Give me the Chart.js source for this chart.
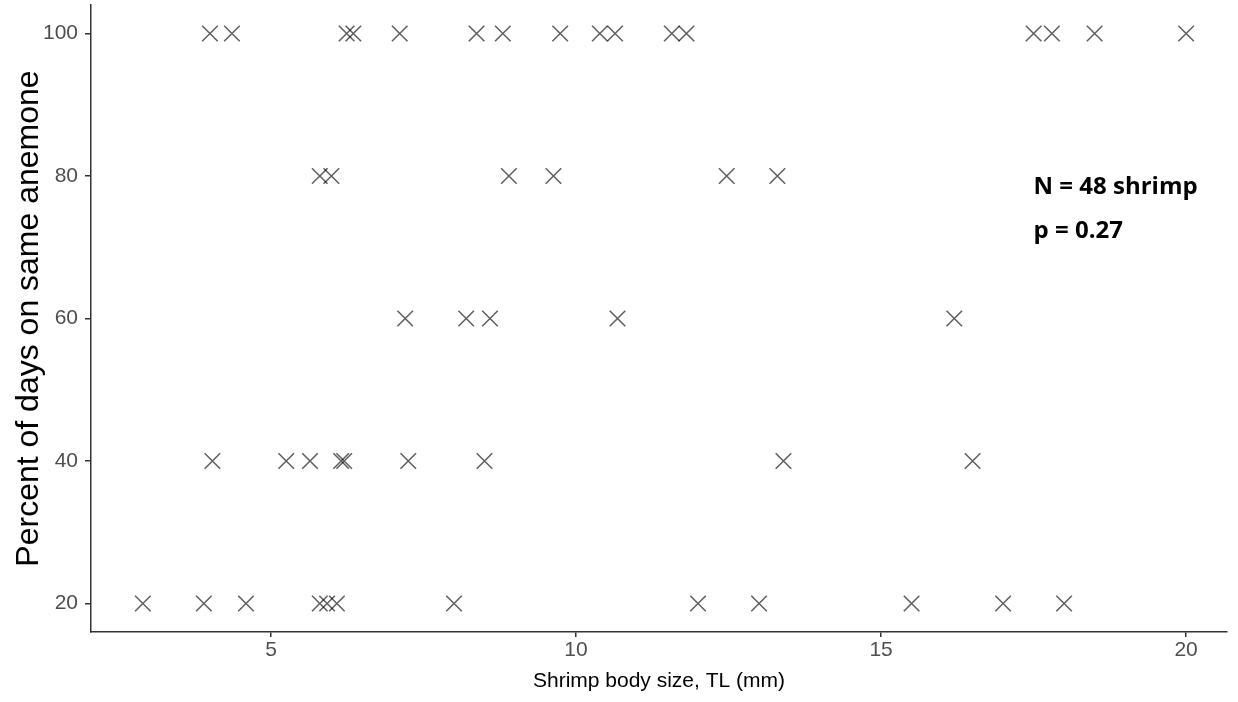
<!DOCTYPE html>
<html>
<head>
<meta charset="utf-8">
<script src="https://cdn.jsdelivr.net/npm/chart.js@4.4.0/dist/chart.umd.min.js"></script>
<style>
  html, body { margin: 0; padding: 0; background: #fff; }
  canvas { display: block; }
</style>
</head>
<body>
<canvas id="shrimpChart" width="1238" height="702"></canvas>
<script>
// Shrimp body size (TL, mm), one list per "percent of days on same anemone" level
const size100 = [4.0, 4.36, 6.24, 6.35, 7.11, 8.37, 8.8, 9.74, 10.39, 10.64, 11.57, 11.81, 17.5, 17.8, 18.5, 20.0];
const size80 = [5.8, 5.99, 8.9, 9.63, 12.47, 13.3];
const size60 = [7.2, 8.2, 8.59, 10.68, 16.2];
const size40 = [4.04, 5.25, 5.64, 6.15, 6.2, 7.25, 8.5, 13.4, 16.5];
const size20 = [2.9, 3.9, 4.59, 5.8, 5.92, 6.08, 8.0, 12.0, 13.0, 15.5, 17.0, 18.0];

const percentLevels = [100, 80, 60, 40, 20];
const sizeGroups = [size100, size80, size60, size40, size20];

const xTicks = [5, 10, 15, 20];
const yTicks = [20, 40, 60, 80, 100];

const statLines = ["N = 48 shrimp", "p = 0.27"];

// flatten into scatter points
const points = [];
sizeGroups.forEach(function(group, i) {
    group.forEach(function(size) {
        points.push({ x: size, y: percentLevels[i] });
    });
});

// axis limits (data range plus a little room)
const xLimits = [2.05, 20.67];
const yLimits = [16, 104];

const axisColor = "#333333";
const tickTextColor = "#4d4f52";
const sans = "'Liberation Sans', Arial, sans-serif";

// bold N / p text in the upper right of the panel
const statText = {
    id: "statText",
    afterDatasetsDraw(chart) {
        const ctx = chart.ctx;
        const x = chart.scales.x.getPixelForValue(17.5);
        ctx.save();
        ctx.fillStyle = "#000";
        ctx.font = "bold 24px 'Open Sans'";
        ctx.textBaseline = "middle";
        ctx.textAlign = "left";
        ctx.fillText(statLines[0], x, chart.scales.y.getPixelForValue(78.4));
        ctx.fillText(statLines[1], x, chart.scales.y.getPixelForValue(72.3));
        ctx.restore();
    }
};

// drop the extra room Chart.js keeps for half a tick label at the ends
function noLabelPadding(scale) {
    scale.paddingTop = 0;
    scale.paddingBottom = 0;
    scale.paddingLeft = 0;
    scale.paddingRight = 0;
}

const ctx = document.getElementById("shrimpChart").getContext("2d");
const shrimpChart = new Chart(ctx, {
    type: "scatter",
    data: {
        datasets: [{
            data: points,
            pointStyle: "crossRot",
            pointRadius: 11,
            pointHoverRadius: 11,
            borderColor: "rgba(0,0,0,0.62)",
            backgroundColor: "rgba(0,0,0,0.62)",
            pointBorderWidth: 1.6
        }]
    },
    options: {
        responsive: false,
        animation: false,
        layout: {
            autoPadding: false,   // markers may sit near the edges, no extra room needed
            padding: { top: 5, right: 11, left: 0, bottom: 0 }
        },
        plugins: {
            legend: { display: false },
            tooltip: { enabled: false }
        },
        scales: {
            x: {
                type: "linear",
                min: xLimits[0],
                max: xLimits[1],
                afterBuildTicks: function(scale) {
                    scale.ticks = xTicks.map(v => ({ value: v }));
                },
                afterFit: function(scale) {
                    noLabelPadding(scale);
                    scale.height = 70;
                },
                grid: { drawOnChartArea: false, drawTicks: true, tickLength: 5, color: axisColor, lineWidth: 1.5 },
                border: { display: true, color: axisColor, width: 1.5 },
                ticks: {
                    color: tickTextColor,
                    font: { family: sans, size: 21 },
                    padding: 1
                },
                title: {
                    display: true,
                    text: "Shrimp body size, TL (mm)",
                    color: "#000",
                    font: { family: sans, size: 21 },
                    padding: { top: 0, bottom: 8 }
                }
            },
            y: {
                type: "linear",
                min: yLimits[0],
                max: yLimits[1],
                afterBuildTicks: function(scale) {
                    scale.ticks = yTicks.map(v => ({ value: v }));
                },
                afterFit: function(scale) {
                    noLabelPadding(scale);
                    scale.width = 91;
                },
                grid: { drawOnChartArea: false, drawTicks: true, tickLength: 6, color: axisColor, lineWidth: 1.5 },
                border: { display: true, color: axisColor, width: 1.5 },
                ticks: {
                    color: tickTextColor,
                    font: { family: sans, size: 21 },
                    padding: 7
                },
                title: {
                    display: true,
                    text: "Percent of days on same anemone",
                    color: "#000",
                    font: { family: sans, size: 32 },
                    padding: { top: 10, bottom: 0 }
                }
            }
        }
    },
    plugins: [statText]
});
</script>
</body>
</html>
